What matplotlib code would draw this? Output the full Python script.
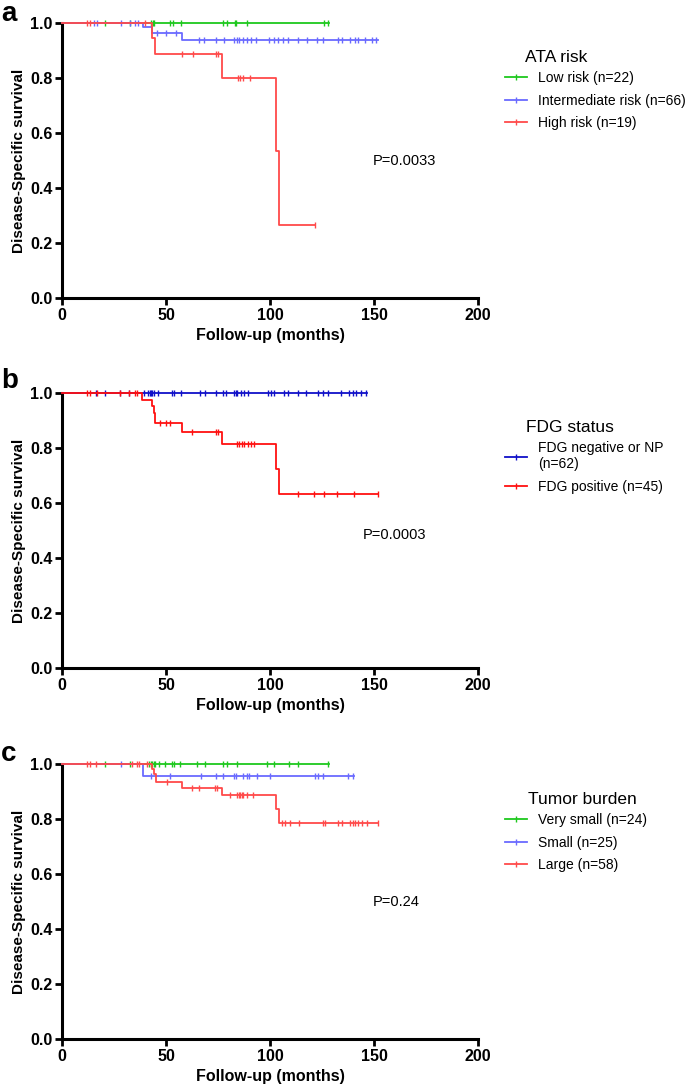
import matplotlib.pyplot as plt
import numpy as np

plt.rcParams['font.family'] = ['Liberation Sans', 'DejaVu Sans']

# ---- Data ----
# Panel a: ATA risk
a_low_events, a_low_surv, a_low_end = [], [], 128.5
a_low_cens = [20.5, 32.5, 42.9, 43.7, 44.3, 52.0, 53.3, 57.0, 77.6, 79.2, 83.4,
              83.8, 88.8, 126.1, 128.0]
a_int_events = [38.9, 43.4, 57.6]
a_int_surv = [0.985, 0.963, 0.940]
a_int_end = 152.0
a_int_cens = [15.2, 16.8, 28.3, 32.8, 35.0, 36.5, 45.6, 49.9, 54.7, 66.1, 68.3,
              74.1, 77.9, 82.9, 84.0, 85.3, 87.2, 89.1, 90.7, 93.3, 99.7, 101.9,
              104.0, 106.4, 108.8, 113.6, 117.6, 122.4, 125.6, 132.8, 134.4,
              138.4, 140.8, 142.4, 145.6, 148.8, 151.2]
a_high_events = [43.2, 44.8, 77.1, 102.9, 104.2]
a_high_surv = [0.944, 0.889, 0.800, 0.533, 0.267]
a_high_end = 121.6
a_high_cens = [12.0, 13.6, 40.0, 57.9, 62.9, 74.0, 75.2, 84.8, 85.6, 87.2, 90.4, 121.6]

# Panel b: FDG status
b_neg_events, b_neg_surv, b_neg_end = [], [], 146.7
b_neg_cens = [16.5, 20.6, 27.8, 32.1, 39.4, 41.4, 42.1, 42.7, 43.4, 44.2, 46.1,
              53.0, 53.8, 57.0, 66.3, 68.6, 73.9, 77.6, 78.7, 82.7, 83.5, 84.3,
              85.9, 87.6, 89.2, 98.8, 100.4, 102.0, 106.5, 108.8, 113.3, 117.3,
              122.9, 125.3, 127.7, 134.1, 138.2, 139.8, 141.4, 143.8, 146.2]
b_pos_events = [38.6, 43.4, 44.0, 44.6, 57.8, 77.1, 103.0, 104.1]
b_pos_surv = [0.976, 0.951, 0.927, 0.891, 0.857, 0.815, 0.725, 0.634]
b_pos_end = 151.8
b_pos_cens = [12.0, 13.7, 16.9, 28.1, 32.0, 35.3, 36.1, 47.0, 50.0, 51.9, 62.3,
              73.9, 75.0, 84.3, 85.1, 86.3, 87.6, 89.5, 90.8, 92.4, 113.7, 121.3,
              125.8, 132.2, 140.2, 151.8]

# Panel c: Tumor burden
c_vs_events, c_vs_surv, c_vs_end = [], [], 128.5
c_vs_cens = [20.8, 32.5, 41.9, 42.7, 43.4, 44.0, 44.8, 46.4, 49.6, 52.8, 53.9,
             56.8, 64.8, 68.8, 77.6, 79.2, 84.0, 98.4, 101.9, 109.3, 113.6, 128.0]
c_sm_events = [38.9]
c_sm_surv = [0.957]
c_sm_end = 140.5
c_sm_cens = [28.3, 42.7, 52.0, 66.9, 74.1, 77.6, 82.9, 83.7, 87.2, 89.1, 90.1,
             93.6, 100.0, 121.6, 123.2, 125.6, 137.6, 140.0]
c_lg_events = [43.2, 44.3, 45.0, 57.6, 77.1, 102.9, 104.2]
c_lg_surv = [0.982, 0.964, 0.934, 0.911, 0.886, 0.836, 0.787]
c_lg_end = 152.0
c_lg_cens = [12.0, 13.6, 16.5, 33.6, 36.0, 36.8, 40.8, 50.4, 62.4, 66.1, 73.6,
             74.7, 80.8, 84.3, 85.0, 85.6, 86.4, 87.2, 88.8, 91.7, 105.6, 107.2,
             109.6, 114.1, 125.6, 126.4, 132.8, 134.4, 138.4, 139.7, 140.8, 142.4,
             144.0, 146.4, 152.0]

GREEN = '#1ec81e'
LBLUE = '#6a6aff'
LRED = '#ff4a4a'
DBLUE = '#1010c8'
DRED = '#ff1010'


def km(ax, events, surv, end, cens, color, label):
    x = [0] + list(events) + [end]
    y = [1.0] + list(surv) + [surv[-1] if surv else 1.0]
    ax.step(x, y, where='post', color=color, lw=1.3, clip_on=False, zorder=3)
    levels = np.array([1.0] + list(surv))
    idx = np.searchsorted(np.array(events), np.array(cens), side='right')
    ax.plot(cens, levels[idx], ls='none', marker='|', ms=4, mew=1.0,
            color=color, clip_on=False, zorder=3)
    # legend handle
    ax.plot([], [], color=color, lw=1.3, marker='|', ms=5, mew=1.0, label=label)


def style(ax):
    ax.set_xlim(0, 200)
    ax.set_ylim(0, 1.0)
    ax.set_xticks([0, 50, 100, 150, 200])
    ax.set_yticks([0.0, 0.2, 0.4, 0.6, 0.8, 1.0])
    ax.set_yticklabels(['0.0', '0.2', '0.4', '0.6', '0.8', '1.0'])
    for s in ['top', 'right']:
        ax.spines[s].set_visible(False)
    for s in ['left', 'bottom']:
        ax.spines[s].set_linewidth(2.2)
    ax.tick_params(direction='out', length=5, width=2, labelsize=11.5, pad=2)
    for lab in ax.get_xticklabels() + ax.get_yticklabels():
        lab.set_fontweight('bold')
    ax.set_xlabel('Follow-up (months)', fontsize=11.5, fontweight='bold', labelpad=4)
    ax.set_ylabel('Disease-Specific survival', fontsize=11, fontweight='bold', labelpad=3)


W, H = 685, 1085
fig = plt.figure(figsize=(W / 100, H / 100), dpi=100)


def add_axes(top_px, bottom_px):
    return fig.add_axes([62 / W, 1 - bottom_px / H, 416 / W, (bottom_px - top_px) / H])


def legend(ax, title, title_x, title_y, top_y):
    fig.text(title_x / W, 1 - title_y / H, title, fontsize=12.5, va='center', ha='left')
    ax.legend(loc='upper left', bbox_to_anchor=(505 / W, 1 - top_y / H),
              bbox_transform=fig.transFigure, frameon=False, fontsize=10,
              handlelength=1.6, handletextpad=0.8, labelspacing=0.62,
              borderpad=0, borderaxespad=0)


# Panel a
ax1 = add_axes(23, 298)
km(ax1, a_low_events, a_low_surv, a_low_end, a_low_cens, GREEN, 'Low risk (n=22)')
km(ax1, a_int_events, a_int_surv, a_int_end, a_int_cens, LBLUE, 'Intermediate risk (n=66)')
km(ax1, a_high_events, a_high_surv, a_high_end, a_high_cens, LRED, 'High risk (n=19)')
style(ax1)
legend(ax1, 'ATA risk', 525, 57, 71)
ax1.text(373 / W, 1 - 161 / H, 'P=0.0033', transform=fig.transFigure, fontsize=10.5, va='center')
fig.text(1 / W, 1 - 1 / H, 'a', fontsize=20, fontweight='bold', va='top')

# Panel b
ax2 = add_axes(393, 668)
km(ax2, b_neg_events, b_neg_surv, b_neg_end, b_neg_cens, DBLUE, 'FDG negative or NP\n(n=62)')
km(ax2, b_pos_events, b_pos_surv, b_pos_end, b_pos_cens, DRED, 'FDG positive (n=45)')
style(ax2)
legend(ax2, 'FDG status', 526, 428, 441)
ax2.text(363 / W, 1 - 535 / H, 'P=0.0003', transform=fig.transFigure, fontsize=10.5, va='center')
fig.text(1 / W, 1 - 368 / H, 'b', fontsize=20, fontweight='bold', va='top')

# Panel c
ax3 = add_axes(764, 1039)
km(ax3, c_vs_events, c_vs_surv, c_vs_end, c_vs_cens, GREEN, 'Very small (n=24)')
km(ax3, c_sm_events, c_sm_surv, c_sm_end, c_sm_cens, LBLUE, 'Small (n=25)')
km(ax3, c_lg_events, c_lg_surv, c_lg_end, c_lg_cens, LRED, 'Large (n=58)')
style(ax3)
legend(ax3, 'Tumor burden', 528, 799, 813)
ax3.text(373 / W, 1 - 902 / H, 'P=0.24', transform=fig.transFigure, fontsize=10.5, va='center')
fig.text(1 / W, 1 - 741 / H, 'c', fontsize=20, fontweight='bold', va='top')

fig.savefig('out.png', dpi=100)
